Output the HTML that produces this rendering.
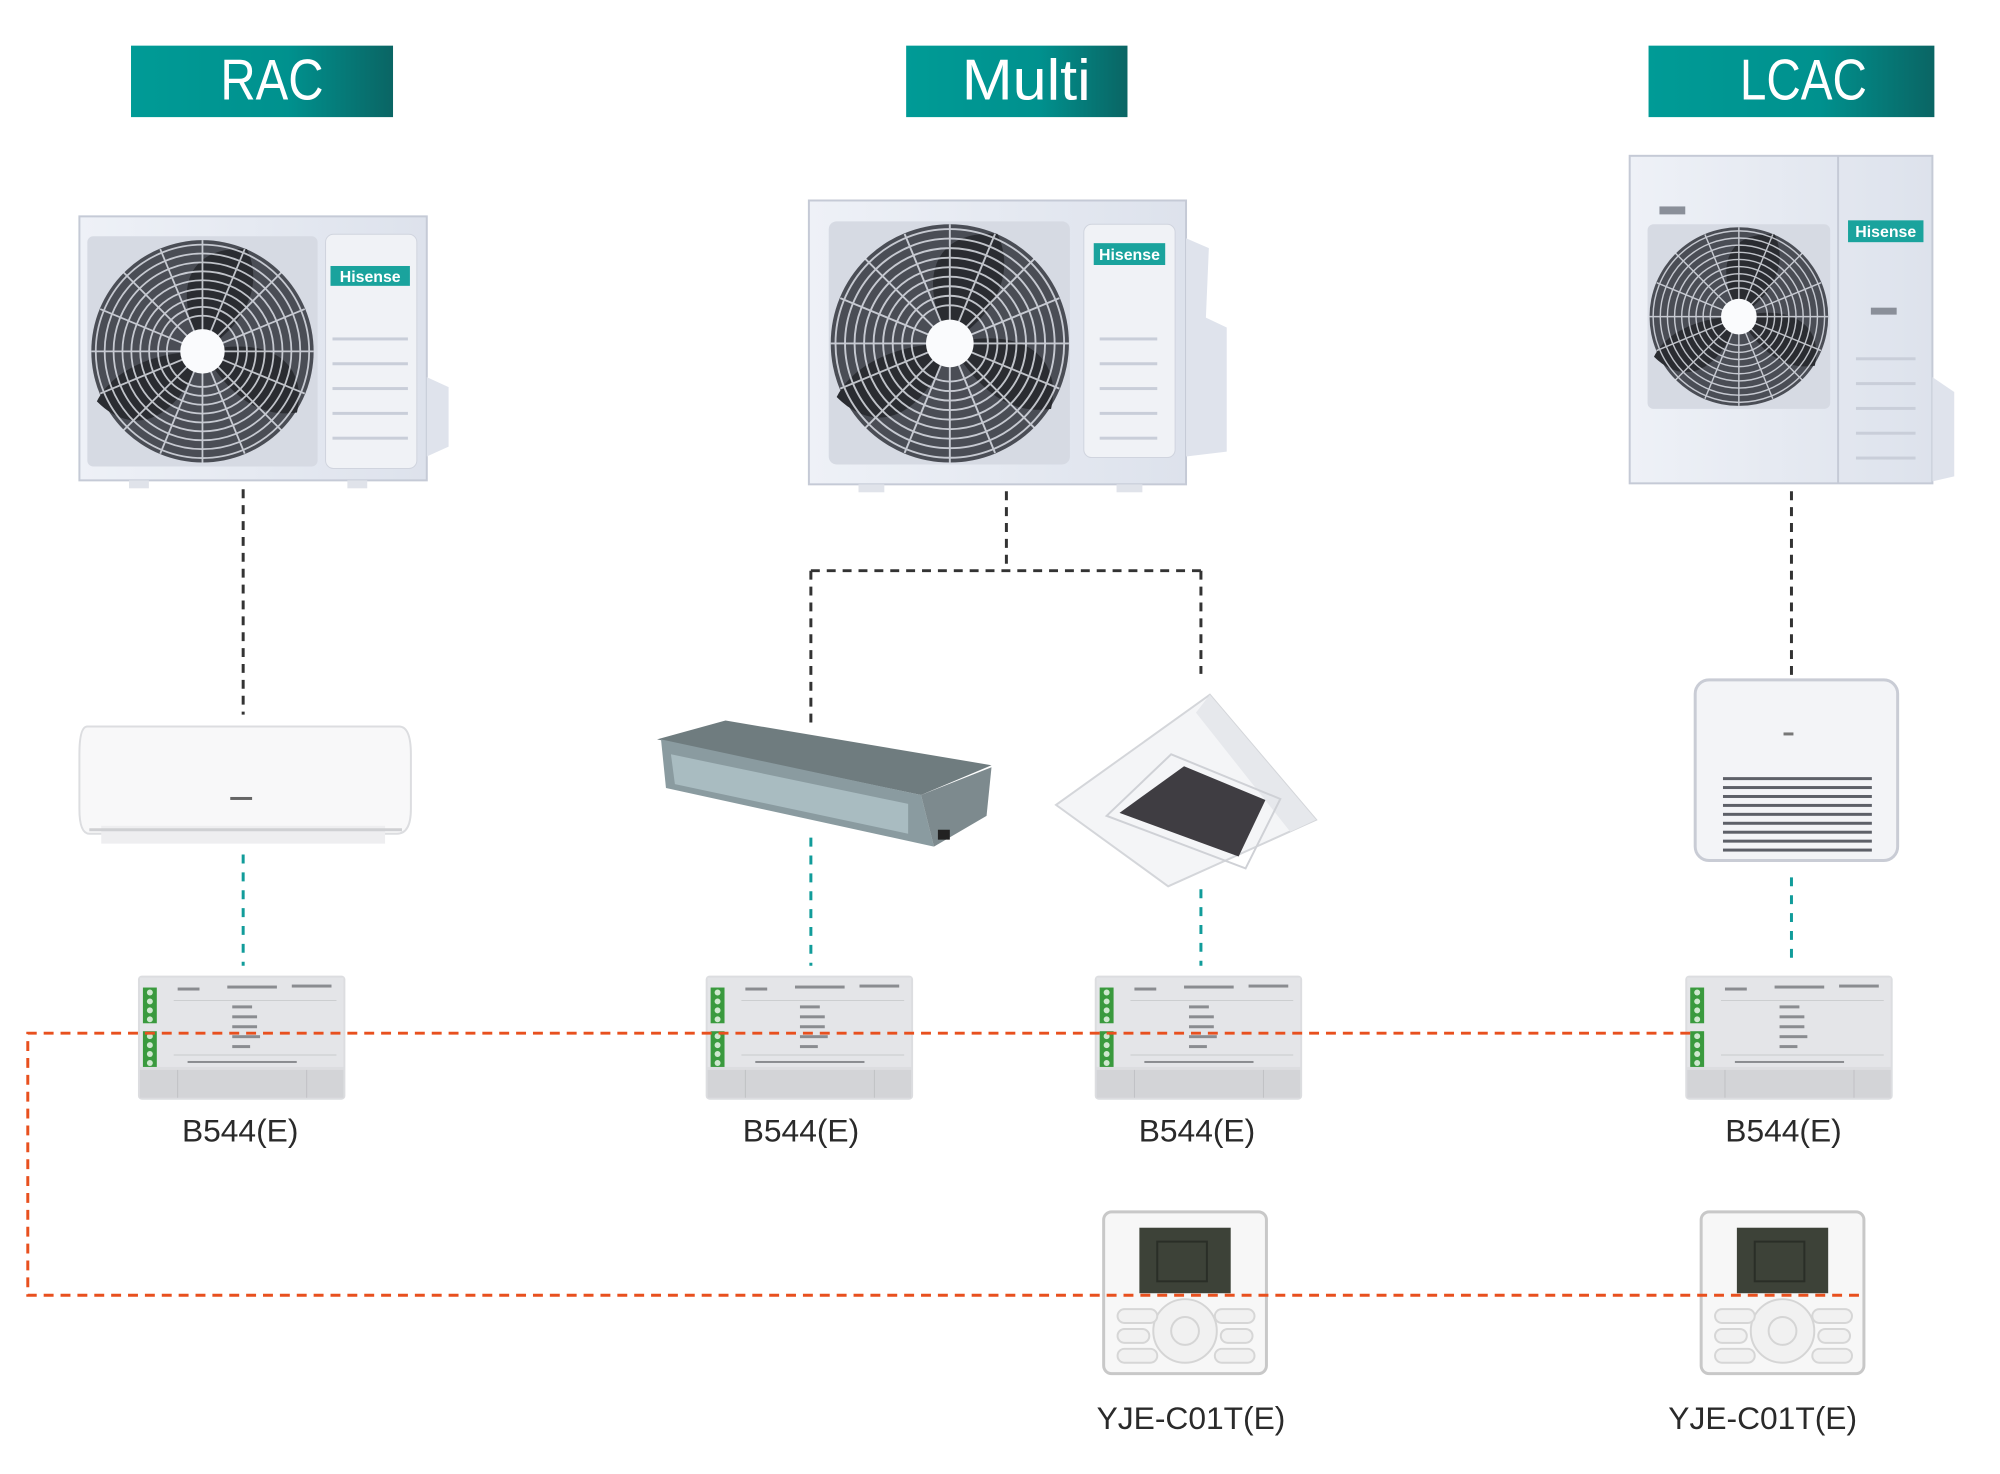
<!DOCTYPE html>
<html><head><meta charset="utf-8"><style>
html,body{margin:0;padding:0;background:#fff;}
svg{display:block;}
text{font-family:"Liberation Sans",sans-serif;}
</style></head><body>
<svg width="2000" height="1474" viewBox="0 0 2000 1474" xmlns="http://www.w3.org/2000/svg">
<defs>
<linearGradient id="hg" x1="0" x2="1" y1="0" y2="0"><stop offset="0" stop-color="#009b96"/><stop offset="0.6" stop-color="#00918e"/><stop offset="1" stop-color="#0a6564"/></linearGradient>
<linearGradient id="body" x1="0" x2="1"><stop offset="0" stop-color="#eef1f7"/><stop offset="1" stop-color="#dde2ec"/></linearGradient>
<g id="fan">
  <circle r="100" fill="#4a4d55"/>
  <path d="M0 0 C-30 -60 -10 -95 40 -92 C55 -60 40 -25 0 0Z M0 0 C60 -15 95 10 85 55 C50 60 25 40 0 0Z M0 0 C-20 60 -60 80 -95 45 C-80 15 -40 0 0 0Z" fill="#2a2c31"/>
  <g fill="none" stroke="#e6e9f0" stroke-width="1.6" opacity="0.8">
    <circle r="96"/><circle r="88"/><circle r="80"/><circle r="72"/><circle r="64"/><circle r="56"/><circle r="48"/><circle r="40"/><circle r="32"/>
    <path d="M0 -100V100M-100 0H100M-71 -71L71 71M71 -71L-71 71M-38 -92L38 92M38 -92L-38 92M-92 -38L92 38M92 -38L-92 38"/>
  </g>
  <circle r="20" fill="#fafbfd"/>
</g>
<g id="b544">
  <rect x="0" y="0" width="209" height="125" rx="4" fill="#dcdde0"/>
  <rect x="2" y="2" width="205" height="90" fill="#e4e5e8"/>
  <rect x="5" y="12" width="14" height="36" fill="#3a9a3e"/>
  <rect x="5" y="56" width="14" height="36" fill="#3a9a3e"/>
  <g fill="#cfe8cf"><circle cx="12" cy="17" r="3"/><circle cx="12" cy="26" r="3"/><circle cx="12" cy="35" r="3"/><circle cx="12" cy="44" r="3"/><circle cx="12" cy="61" r="3"/><circle cx="12" cy="70" r="3"/><circle cx="12" cy="79" r="3"/><circle cx="12" cy="88" r="3"/></g>
  <line x1="36" y1="25" x2="200" y2="25" stroke="#c9cacd"/>
  <line x1="36" y1="80" x2="200" y2="80" stroke="#c9cacd"/>
  <g fill="#8a8c90"><rect x="40" y="12" width="22" height="3"/><rect x="90" y="10" width="50" height="3"/><rect x="155" y="9" width="40" height="3"/><rect x="95" y="30" width="20" height="3"/><rect x="95" y="40" width="25" height="3"/><rect x="95" y="50" width="25" height="3"/><rect x="95" y="60" width="28" height="3"/><rect x="95" y="70" width="18" height="3"/><rect x="50" y="86" width="110" height="2"/></g>
  <rect x="2" y="95" width="205" height="28" fill="#d3d4d7"/>
  <line x1="40" y1="95" x2="40" y2="123" stroke="#c0c1c4"/><line x1="170" y1="95" x2="170" y2="123" stroke="#c0c1c4"/>
</g>
<g id="ctrl">
  <rect x="0" y="0" width="164" height="163" rx="8" fill="#f7f7f7" stroke="#c8c8c8" stroke-width="3"/>
  <rect x="36" y="16" width="92" height="66" fill="#3d4238"/>
  <rect x="54" y="30" width="50" height="40" fill="none" stroke="#2a2e27" stroke-width="2"/>
  <circle cx="82" cy="120" r="32" fill="#f1f1f1" stroke="#d5d5d5" stroke-width="2"/>
  <circle cx="82" cy="120" r="14" fill="#f1f1f1" stroke="#d5d5d5" stroke-width="2"/>
  <g fill="#f1f1f1" stroke="#d6d6d6" stroke-width="2"><rect x="14" y="98" width="40" height="14" rx="7"/><rect x="14" y="118" width="32" height="14" rx="7"/><rect x="14" y="138" width="40" height="14" rx="7"/><rect x="112" y="98" width="40" height="14" rx="7"/><rect x="118" y="118" width="32" height="14" rx="7"/><rect x="112" y="138" width="40" height="14" rx="7"/></g>
</g>
</defs>
<g transform="scale(0.9925)">
<!-- headers -->
<rect x="132" y="46" width="264" height="72" fill="url(#hg)"/>
<text x="274" y="100" font-size="58" fill="#fff" text-anchor="middle" textLength="104" lengthAdjust="spacingAndGlyphs">RAC</text>
<rect x="913" y="46" width="223" height="72" fill="url(#hg)"/>
<text x="1034" y="100" font-size="58" fill="#fff" text-anchor="middle" textLength="130" lengthAdjust="spacingAndGlyphs">Multi</text>
<rect x="1661" y="46" width="288" height="72" fill="url(#hg)"/>
<text x="1817" y="100" font-size="58" fill="#fff" text-anchor="middle" textLength="128" lengthAdjust="spacingAndGlyphs">LCAC</text>

<g stroke="#333" stroke-width="3" stroke-dasharray="9 7" fill="none">
  <path d="M245 493V720"/>
  <path d="M1014 495V575M817 575H1210M817 575V733M1210 575V679"/>
  <path d="M1805 495V681"/>
</g>
<g stroke="#119c9a" stroke-width="3" stroke-dasharray="9 9" fill="none">
  <path d="M245 861V973M817 844V973M1210 896V973M1805 884V973"/>
</g>

<g>
  <rect x="80" y="218" width="350" height="266" fill="url(#body)" stroke="#c5cad6" stroke-width="2"/>
  <path d="M430 380 L452 390 L452 450 L430 460Z" fill="#dfe3ec"/>
  <rect x="88" y="238" width="232" height="232" rx="6" fill="#d6dae3"/>
  <use href="#fan" transform="translate(204,354) scale(1.12)"/>
  <rect x="328" y="236" width="92" height="236" rx="8" fill="#f0f2f6" stroke="#d0d4de"/>
  <rect x="333" y="268" width="80" height="20" fill="#1aa39d"/>
  <text x="373" y="284" font-size="16" font-weight="bold" fill="#fff" text-anchor="middle">Hisense</text>
  <g fill="#c9ced9"><rect x="335" y="340" width="76" height="3"/><rect x="335" y="365" width="76" height="3"/><rect x="335" y="390" width="76" height="3"/><rect x="335" y="415" width="76" height="3"/><rect x="335" y="440" width="76" height="3"/></g>
  <rect x="130" y="484" width="20" height="8" fill="#e0e3ea"/><rect x="350" y="484" width="20" height="8" fill="#e0e3ea"/>
</g>

<g>
  <rect x="815" y="202" width="380" height="286" fill="url(#body)" stroke="#c5cad6" stroke-width="2"/>
  <path d="M1195 240 L1218 250 L1215 320 L1236 330 L1236 455 L1195 460Z" fill="#dfe3ec"/>
  <rect x="835" y="223" width="243" height="245" rx="8" fill="#d6dae3"/>
  <use href="#fan" transform="translate(957,346) scale(1.2)"/>
  <rect x="1092" y="226" width="92" height="235" rx="8" fill="#f0f2f6" stroke="#d0d4de"/>
  <rect x="1102" y="245" width="72" height="22" fill="#1aa39d"/>
  <text x="1138" y="262" font-size="16" font-weight="bold" fill="#fff" text-anchor="middle">Hisense</text>
  <g fill="#c9ced9"><rect x="1108" y="340" width="58" height="3"/><rect x="1108" y="365" width="58" height="3"/><rect x="1108" y="390" width="58" height="3"/><rect x="1108" y="415" width="58" height="3"/><rect x="1108" y="440" width="58" height="3"/></g>
  <rect x="865" y="488" width="26" height="8" fill="#e0e3ea"/><rect x="1125" y="488" width="26" height="8" fill="#e0e3ea"/>
</g>

<g>
  <rect x="1642" y="157" width="305" height="330" fill="url(#body)" stroke="#c5cad6" stroke-width="2"/>
  <path d="M1947 380 L1969 395 L1969 480 L1947 485Z" fill="#dfe3ec"/>
  <line x1="1852" y1="157" x2="1852" y2="487" stroke="#c5cad6" stroke-width="2"/>
  <rect x="1660" y="226" width="184" height="186" rx="6" fill="#d6dae3"/>
  <use href="#fan" transform="translate(1752,319) scale(0.9)"/>
  <rect x="1672" y="208" width="26" height="8" fill="#8a8f99"/>
  <rect x="1862" y="222" width="76" height="22" fill="#1aa39d"/>
  <text x="1900" y="239" font-size="16" font-weight="bold" fill="#fff" text-anchor="middle">Hisense</text>
  <rect x="1885" y="310" width="26" height="7" fill="#8a8f99"/>
  <g fill="#c9ced9"><rect x="1870" y="360" width="60" height="3"/><rect x="1870" y="385" width="60" height="3"/><rect x="1870" y="410" width="60" height="3"/><rect x="1870" y="435" width="60" height="3"/><rect x="1870" y="460" width="60" height="3"/></g>
</g>

<g>
  <path d="M88 732 H402 Q414 732 414 760 V815 Q414 840 400 840 H90 Q80 840 80 815 V760 Q80 732 88 732Z" fill="#f8f8f9" stroke="#dcdde0" stroke-width="2"/>
  <rect x="102" y="832" width="286" height="18" fill="#eeeef0"/>
  <line x1="90" y1="836" x2="405" y2="836" stroke="#cfd0d3" stroke-width="3"/>
  <rect x="232" y="803" width="22" height="3" fill="#666"/>
</g>

<g>
  <polygon points="662,745 731,726 999,771 928,801" fill="#6f7c7f"/>
  <polygon points="666,745 928,801 941,853 671,794" fill="#8a9ba0"/>
  <polygon points="676,760 915,810 915,840 680,790" fill="#a9bcc1"/>
  <polygon points="928,801 999,773 994,822 941,853" fill="#7d8a8e"/>
  <rect x="945" y="836" width="12" height="10" fill="#222"/>
</g>

<g>
  <polygon points="1219,700 1326,826 1177,893 1064,811" fill="#f4f5f7" stroke="#d4d6da" stroke-width="2"/>
  <polygon points="1219,700 1326,826 1300,838 1205,718" fill="#e6e8ec"/>
  <polygon points="1193,772 1275,806 1248,863 1128,819" fill="#3f3d42"/>
  <polygon points="1180,760 1290,805 1255,875 1115,822" fill="none" stroke="#cfd1d6" stroke-width="2"/>
</g>

<g>
  <rect x="1708" y="685" width="204" height="182" rx="14" fill="#f3f4f7" stroke="#c9ccd5" stroke-width="3"/>
  <g fill="#5d6068">
    <rect x="1736" y="783" width="150" height="3"/><rect x="1736" y="792" width="150" height="3"/><rect x="1736" y="801" width="150" height="3"/><rect x="1736" y="810" width="150" height="3"/><rect x="1736" y="819" width="150" height="3"/><rect x="1736" y="828" width="150" height="3"/><rect x="1736" y="837" width="150" height="3"/><rect x="1736" y="846" width="150" height="3"/><rect x="1736" y="855" width="150" height="3"/>
  </g>
  <rect x="1797" y="738" width="10" height="3" fill="#777"/>
</g>

<use href="#b544" transform="translate(139,983)"/>
<use href="#b544" transform="translate(711,983)"/>
<use href="#b544" transform="translate(1103,983)"/>
<use href="#b544" transform="translate(1698,983)"/>

<use href="#ctrl" transform="translate(1112,1221)"/>
<use href="#ctrl" transform="translate(1714,1221)"/>

<g stroke="#e8501e" stroke-width="3" stroke-dasharray="10 7" fill="none">
  <path d="M1703 1041 H28 V1305 H1877"/>
</g>

<g font-size="32" fill="#2a2a2a" text-anchor="middle">
  <text x="242" y="1150">B544(E)</text>
  <text x="807" y="1150">B544(E)</text>
  <text x="1206" y="1150">B544(E)</text>
  <text x="1797" y="1150">B544(E)</text>
  <text x="1200" y="1440">YJE-C01T(E)</text>
  <text x="1776" y="1440">YJE-C01T(E)</text>
</g>
</g>
</svg>
</body></html>
